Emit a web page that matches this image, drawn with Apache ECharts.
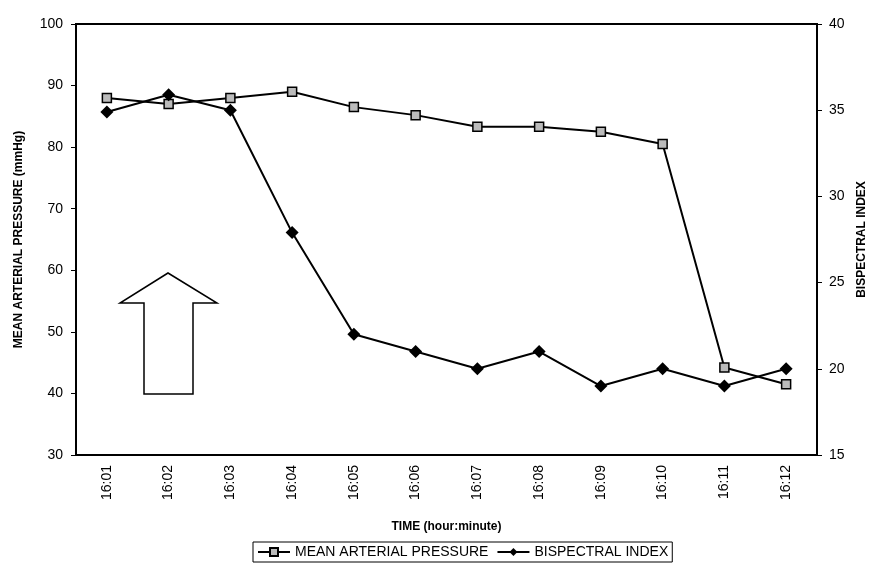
<!DOCTYPE html>
<html>
<head>
<meta charset="utf-8">
<script src="https://cdn.jsdelivr.net/npm/echarts@6/dist/echarts.min.js"></script>
<style>
    html, body { margin: 0; padding: 0; background: #fff; }
    #chart { width: 869px; height: 584px; }
</style>
</head>
<body>
<div id="chart"></div>
<script>
const times = ['16:01', '16:02', '16:03', '16:04', '16:05', '16:06', '16:07', '16:08', '16:09', '16:10', '16:11', '16:12'];
const mapValues = [88, 87, 88, 89, 86.5, 85.2, 83.3, 83.3, 82.5, 80.5, 44.2, 41.5];
const bisValues = [34.9, 35.9, 35, 27.9, 22, 21, 20, 21, 19, 20, 19, 20];

(function () {
    const chart = echarts.init(document.getElementById('chart'));
    const font = 'Liberation Sans, Arial, sans-serif';
    const axisLine = { show: true, lineStyle: { color: '#000', width: 2 } };
    const option = {
        animation: false,
        grid: {
            left: 76, right: 52, top: 24, bottom: 129,
            outerBoundsMode: 'none',
            show: true, borderColor: '#000', borderWidth: 2
        },
        legend: {
            bottom: 22,
            left: 253,
            itemWidth: 32,
            itemHeight: 10,
            itemGap: 8,
            borderColor: '#000',
            borderWidth: 1,
            padding: [3, 4],
            textStyle: { color: '#000', fontSize: 14, fontFamily: font },
            data: ['MEAN ARTERIAL PRESSURE', 'BISPECTRAL INDEX']
        },
        xAxis: [{
            type: 'category',
            data: times,
            boundaryGap: true,
            name: 'TIME (hour:minute)',
            nameLocation: 'middle',
            nameGap: 66,
            nameTextStyle: { color: '#000', fontSize: 12, fontWeight: 'bold', fontFamily: font },
            axisLine: axisLine,
            axisTick: { alignWithLabel: true, length: 5, lineStyle: { color: '#000' } },
            axisLabel: { rotate: 90, color: '#000', fontSize: 14, fontFamily: font, margin: 10 }
        }, {
            // short inner ticks at the category boundaries
            type: 'category',
            data: times,
            position: 'bottom',
            boundaryGap: true,
            axisLine: { show: false },
            axisTick: { inside: true, length: 4, lineStyle: { color: '#000' } },
            axisLabel: { show: false }
        }],
        yAxis: [{
            type: 'value',
            min: 30,
            max: 100,
            interval: 10,
            name: 'MEAN ARTERIAL PRESSURE (mmHg)',
            nameLocation: 'middle',
            nameGap: 51,
            nameTextStyle: { color: '#000', fontSize: 12, fontWeight: 'bold', fontFamily: font },
            axisLine: axisLine,
            axisTick: { show: true, length: 5, lineStyle: { color: '#000' } },
            splitLine: { show: false },
            axisLabel: { color: '#000', fontSize: 14, fontFamily: font, margin: 13 }
        }, {
            type: 'value',
            min: 15,
            max: 40,
            interval: 5,
            name: 'BISPECTRAL INDEX',
            nameLocation: 'middle',
            nameGap: 36,
            nameRotate: 90,
            nameTextStyle: { color: '#000', fontSize: 12, fontWeight: 'bold', fontFamily: font },
            axisLine: axisLine,
            axisTick: { show: true, length: 5, lineStyle: { color: '#000' } },
            splitLine: { show: false },
            axisLabel: { color: '#000', fontSize: 14, fontFamily: font, margin: 12 }
        }],
        series: [{
            name: 'MEAN ARTERIAL PRESSURE',
            type: 'line',
            yAxisIndex: 0,
            data: mapValues,
            symbol: 'rect',
            symbolSize: 9,
            lineStyle: { color: '#000', width: 2 },
            itemStyle: { color: '#bbb', borderColor: '#000', borderWidth: 1.5 }
        }, {
            name: 'BISPECTRAL INDEX',
            type: 'line',
            yAxisIndex: 1,
            data: bisValues,
            symbol: 'diamond',
            symbolSize: 13,
            lineStyle: { color: '#000', width: 2 },
            itemStyle: { color: '#000' }
        }],
        graphic: [{
            type: 'polygon',
            shape: {
                points: [[168, 273], [120, 303], [144, 303], [144, 394], [193, 394], [193, 303], [217, 303]]
            },
            style: { fill: '#fff', stroke: '#000', lineWidth: 1.5 }
        }]
    };
    chart.setOption(option);
})();
</script>
</body>
</html>
